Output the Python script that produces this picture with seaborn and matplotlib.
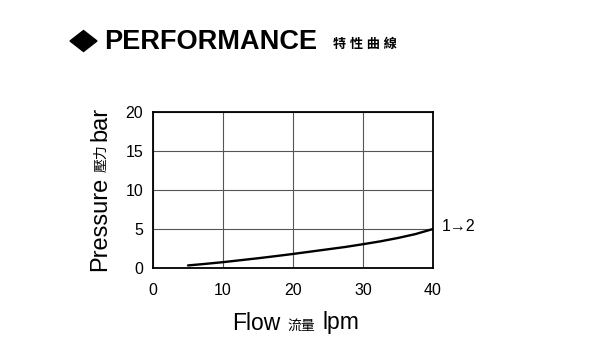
import matplotlib
matplotlib.use("Agg")
import matplotlib.pyplot as plt
from matplotlib.patches import Polygon
import seaborn as sns
import pandas as pd

flow = [5, 7.5, 10, 12.5, 15, 17.5, 20, 22.5, 25, 27.5, 30, 32.5, 35, 37.5, 40]
pressure = [0.33, 0.53, 0.75, 1.0, 1.25, 1.52, 1.8, 2.1, 2.4, 2.7, 3.05, 3.42, 3.85, 4.35, 5.0]
x_ticks = [0, 10, 20, 30, 40]
y_ticks = [0, 5, 10, 15, 20]
curve_label = "1→2"

sns.set_style("white")
plt.rcParams['font.family'] = ['Liberation Sans', 'Noto Sans CJK TC', 'DejaVu Sans']

W, H = 600, 350
fig = plt.figure(figsize=(6, 3.5), dpi=100)
ax = fig.add_axes([153 / W, 1 - 268 / H, 280 / W, 156 / H])

df = pd.DataFrame({"flow": flow, "pressure": pressure})
sns.lineplot(data=df, x="flow", y="pressure", ax=ax, color="black", linewidth=1.7)

ax.set_xlim(0, 40)
ax.set_ylim(0, 20)
ax.set_xticks(x_ticks)
ax.set_yticks(y_ticks)
ax.grid(True, color="#555555", linewidth=0.8)
for s in ax.spines.values():
    s.set_color("black")
    s.set_linewidth(1.3)
ax.tick_params(axis="both", length=0, labelsize=11.5, colors="black")
ax.tick_params(axis="y", pad=7)
ax.tick_params(axis="x", pad=11)
ax.set_xlabel("")
ax.set_ylabel("")

def px(x, y):
    return x / W, 1 - y / H

# title diamond
diamond = Polygon([px(70, 41), px(83.5, 30.5), px(97, 41), px(83.5, 51.5)], closed=True,
                  transform=fig.transFigure, facecolor="black", edgecolor="black")
fig.patches.append(diamond)
fig.text(*px(104, 42), "PERFORMANCE", fontsize=19.5, fontweight="bold", ha="left", va="center", color="black")
fig.text(*px(333, 45), "特 性 曲 線", fontsize=9.5, fontweight="bold", ha="left", va="center", color="black")

# y label (stacked pieces, bottom to top)
renderer = fig.canvas.get_renderer()
t1 = fig.text(*px(100, 271), "Pressure", fontsize=17, rotation=90, ha="center", va="bottom", color="black")
bb = t1.get_window_extent(renderer)
top_px = H - bb.y1
t2 = fig.text(*px(101, top_px - 5), "壓力", fontsize=10, rotation=90, ha="center", va="bottom", color="black")
bb2 = t2.get_window_extent(renderer)
top2 = H - bb2.y1
fig.text(*px(100, top2 - 3), "bar", fontsize=17, rotation=90, ha="center", va="bottom", color="black")

# x label
fig.text(*px(232, 323), "Flow", fontsize=16.5, ha="left", va="center", color="black")
fig.text(*px(287, 326), "流量", fontsize=10, ha="left", va="center", color="black")
fig.text(*px(322, 323), "lpm", fontsize=16.5, ha="left", va="center", color="black")

# curve label
ax.annotate(curve_label, xy=(flow[-1], pressure[-1]), xytext=(6, 1.5), textcoords="offset points",
            fontsize=11.5, ha="left", va="center", color="black")

fig.savefig("out.png", dpi=100, facecolor="white")
